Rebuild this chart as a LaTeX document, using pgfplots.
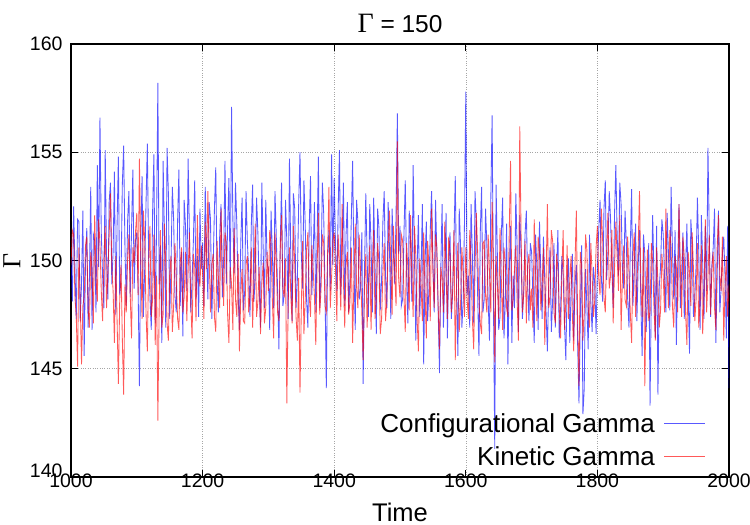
\documentclass[border=0pt]{standalone}
\usepackage{pgfplots}
\pgfplotsset{compat=1.18}
\usepackage{pgfplotstable}
\usepackage{fontspec}
\setmainfont{Liberation Sans}
\newfontfamily\serifgamma{Liberation Serif}

\pgfplotstableread{
t conf kin
1000 150.2 149.8
1002 148.1 151.4
1004 152.5 151.2
1006 149.6 148.3
1008 147.3 147.4
1010 151.9 145.1
1012 151.8 150.6
1014 147.2 148.2
1016 148.9 145.2
1018 152.3 147.9
1020 145.6 148.3
1022 149.8 150.7
1024 151.5 151.1
1026 146.9 147.8
1028 149.2 146.9
1030 153.4 150.4
1032 146.8 149.5
1034 151.2 147.1
1036 150.9 152.1
1038 147.6 149.2
1040 154.4 148.1
1042 149.7 151.9
1044 156.6 150.8
1046 151.3 148.6
1048 149.3 147.2
1050 147.8 150.1
1052 155.1 151.6
1054 150.2 147.8
1056 148.2 149.4
1058 152.7 151.2
1060 153.6 153.1
1062 148.9 149.7
1064 150.4 148.6
1066 154.1 146.2
1068 147.5 150.2
1070 151.6 147.3
1072 154.8 144.3
1074 148.4 148.1
1076 149.1 149.8
1078 153.5 146.4
1080 155.3 143.8
1082 150.6 148.9
1084 147.9 147.6
1086 151.8 150.1
1088 153.2 151.2
1090 148.3 148.4
1092 151.4 146.4
1094 154.2 150.6
1096 148.7 149.9
1098 150.9 151.3
1100 151.3 152.2
1102 148.7 148.4
1104 144.2 154.7
1106 150.8 150.2
1108 153.9 147.3
1110 147.4 152.3
1112 149.6 150.9
1114 152.6 147.6
1116 155.4 145.8
1118 150.1 149.9
1120 148.3 151.6
1122 146.8 147.4
1124 152.2 148.2
1126 154.9 151.2
1128 147.1 146.1
1130 151.4 149.3
1132 158.2 142.6
1134 148.9 147.8
1136 150.7 151.4
1138 146.2 146.9
1140 154.6 147.5
1142 151.1 151.7
1144 146.9 149.8
1146 155.2 147.1
1148 153.1 146.3
1150 147.3 149.4
1152 149.8 150.2
1154 153.4 146.7
1156 151.9 147.9
1158 148.4 150.8
1160 147.6 149.1
1162 151.8 147.3
1164 154.2 146.8
1166 147.9 149.9
1168 150.4 150.6
1170 146.5 147.6
1172 152.8 148.3
1174 151.6 150.4
1176 148.6 147.2
1178 154.7 149.5
1180 151.2 151.3
1182 147.6 148.1
1184 149.1 146.4
1186 150.9 150.3
1188 153.7 149.7
1190 148.2 147.2
1192 150.2 152.1
1194 147.4 149.3
1196 152.4 148.8
1198 149.6 150.7
1200 150.8 149.4
1202 147.9 147.3
1204 153.4 151.8
1206 150.6 149.6
1208 148.2 153.2
1210 152.7 150.1
1212 151.9 147.6
1214 147.3 149.8
1216 149.7 150.3
1218 152.4 147.4
1220 154.3 146.7
1222 149.1 150.9
1224 147.6 149.2
1226 151.2 147.8
1228 152.6 152.4
1230 148.3 149.6
1232 150.1 147.9
1234 154.6 151.3
1236 148.9 150.8
1238 151.5 147.5
1240 153.8 146.2
1242 148.7 149.7
1244 157.1 148.9
1246 151.9 146.8
1248 149.4 151.5
1250 153.6 148.2
1252 151.7 147.4
1254 148.4 150.3
1256 146.8 145.8
1258 150.8 148.4
1260 152.9 149.6
1262 147.7 147.2
1264 148.6 147.1
1266 153.2 149.8
1268 150.9 150.2
1270 149.5 147.6
1272 147.4 148.4
1274 151.6 150.6
1276 153.5 146.9
1278 148.1 149.1
1280 149.2 151.7
1282 152.9 147.4
1284 151.3 148.1
1286 148.8 149.7
1288 146.9 146.6
1290 153.6 148.9
1292 150.6 149.9
1294 147.8 147.1
1296 152.8 147.8
1298 149.9 150.4
1300 149.6 148.6
1302 146.8 151.4
1304 152.3 150.7
1306 150.4 148.2
1308 147.8 146.4
1310 153.2 151.3
1312 151.1 149.9
1314 148.6 147.6
1316 145.9 147.2
1318 150.7 150.5
1320 153.6 152.1
1322 147.9 148.7
1324 148.4 148.3
1326 152.8 150.1
1328 150.9 143.4
1330 147.3 147.8
1332 154.7 150.6
1334 150.2 148.4
1336 147.2 147.1
1338 153.1 151.6
1340 152.4 149.8
1342 147.8 147.4
1344 149.1 146.3
1346 152.6 149.2
1348 155.0 143.9
1350 150.4 147.7
1352 148.7 150.9
1354 153.7 146.6
1356 151.6 148.2
1358 148.2 150.5
1360 146.9 151.3
1362 151.5 148.4
1364 153.9 147.4
1366 148.4 150.7
1368 150.2 149.6
1370 152.7 148.3
1372 147.6 146.1
1374 150.9 149.7
1376 154.8 152.2
1378 147.8 147.5
1380 149.4 148.7
1382 153.6 151.2
1384 152.2 150.8
1386 148.7 147.9
1388 144.1 147.6
1390 150.2 150.4
1392 151.4 153.4
1394 148.6 147.8
1396 154.9 149.2
1398 149.8 150.9
1400 153.8 151.3
1402 150.7 149.6
1404 148.6 147.2
1406 152.3 151.2
1408 155.1 149.8
1410 148.4 147.7
1412 150.3 152.6
1414 153.6 149.1
1416 147.9 146.9
1418 151.2 149.8
1420 152.7 150.4
1422 147.6 147.5
1424 149.2 148.1
1426 151.9 150.6
1428 154.6 146.2
1430 149.7 149.1
1432 146.8 151.7
1434 152.8 148.8
1436 151.8 147.8
1438 148.2 151.2
1440 148.7 149.5
1442 151.3 147.6
1444 144.3 145.4
1446 149.4 148.8
1448 153.1 150.3
1450 150.2 146.9
1452 147.4 148.6
1454 152.6 150.7
1456 150.8 146.8
1458 147.6 149.6
1460 152.9 151.4
1462 149.8 147.3
1464 146.6 148.2
1466 152.4 150.8
1468 151.5 149.9
1470 147.7 146.6
1472 149.1 147.3
1474 151.8 149.4
1476 153.2 150.8
1478 149.3 147.2
1480 147.8 148.1
1482 152.7 150.6
1484 150.6 152.3
1486 147.3 149.7
1488 152.4 147.5
1490 150.4 151.6
1492 148.9 149.4
1494 152.1 147.9
1496 156.8 155.5
1498 150.3 149.1
1500 151.6 148.3
1502 147.9 151.2
1504 148.2 150.9
1506 151.2 148.4
1508 153.7 146.7
1510 149.4 150.8
1512 147.1 149.6
1514 152.3 147.7
1516 150.9 152.1
1518 148.1 149.3
1520 154.4 147.4
1522 150.2 151.6
1524 146.3 150.2
1526 149.7 147.3
1528 152.1 145.8
1530 147.4 150.1
1532 149.4 148.9
1534 152.6 147.2
1536 145.2 151.3
1538 149.8 148.6
1540 151.8 146.4
1542 147.2 150.9
1544 148.7 149.7
1546 151.4 147.2
1548 153.2 152.4
1550 149.9 149.6
1552 147.6 147.8
1554 152.8 151.2
1556 150.3 150.6
1558 147.7 147.9
1560 144.8 145.9
1562 149.6 149.7
1564 152.6 149.2
1566 146.9 147.6
1568 149.1 151.8
1570 152.2 149.4
1572 146.4 147.3
1574 149.8 151.1
1576 151.3 150.4
1578 147.3 147.6
1580 148.5 148.6
1582 150.9 151.4
1584 153.9 145.4
1586 148.6 148.8
1588 145.6 150.8
1590 152.4 146.7
1592 150.7 147.9
1594 146.9 150.6
1596 148.1 149.3
1598 151.8 147.4
1600 157.8 150.6
1602 148.4 148.2
1604 149.3 147.3
1606 146.9 151.4
1608 152.6 149.8
1610 150.2 147.3
1612 147.1 145.9
1614 153.2 149.6
1616 151.8 152.2
1618 148.4 150.4
1620 145.6 148.1
1622 151.3 147.1
1624 153.4 146.6
1626 147.6 150.8
1628 148.2 150.9
1630 152.4 148.4
1632 150.7 147.6
1634 148.1 151.2
1636 146.3 149.4
1638 152.8 147.6
1640 156.7 152.7
1642 148.2 149.8
1644 141.3 145.3
1646 153.5 150.2
1648 150.2 148.9
1650 146.8 147.3
1652 147.4 151.5
1654 151.2 149.1
1656 152.9 146.8
1658 146.4 150.6
1660 148.1 149.9
1662 151.7 147.8
1664 145.2 147.4
1666 149.4 151.3
1668 151.6 154.6
1670 146.2 147.7
1672 149.3 148.2
1674 147.8 149.6
1676 153.1 150.7
1678 150.6 148.1
1680 146.7 146.3
1682 152.1 156.2
1684 150.4 151.2
1686 147.3 147.6
1688 148.6 148.4
1690 151.2 150.9
1692 152.3 147.1
1694 148.9 149.8
1696 147.2 150.3
1698 150.8 147.7
1700 150.4 148.7
1702 148.3 146.9
1704 146.2 151.9
1706 151.2 149.3
1708 149.7 147.2
1710 146.8 151.1
1712 151.8 150.4
1714 149.4 147.7
1716 147.3 148.8
1718 151.1 150.6
1720 149.1 146.1
1722 147.6 149.2
1724 145.8 152.6
1726 148.9 147.8
1728 150.6 148.3
1730 146.7 151.4
1732 148.2 150.9
1734 150.8 147.6
1736 146.9 147.1
1738 149.6 150.3
1740 151.4 149.6
1742 146.4 147.8
1744 147.6 146.4
1746 150.2 149.5
1748 149.3 151.4
1750 147.1 146.8
1752 145.4 148.1
1754 148.8 150.7
1756 150.1 147.3
1758 146.2 149.1
1760 148.6 150.2
1762 150.3 147.4
1764 146.3 145.8
1766 148.9 149.9
1768 149.8 152.3
1770 146.1 147.1
1772 143.4 144.2
1774 147.3 150.4
1776 150.7 149.8
1778 142.9 146.3
1780 144.1 147.6
1782 149.6 151.2
1784 147.9 150.5
1786 145.9 147.8
1788 151.2 146.9
1790 148.1 150.8
1792 146.7 149.3
1794 149.7 147.4
1796 148.9 148.2
1798 146.6 150.6
1800 149.6 151.6
1802 151.4 149.2
1804 152.8 148.4
1806 149.2 152.4
1808 148.1 150.9
1810 152.4 148.3
1812 153.7 147.6
1814 149.1 150.4
1816 150.4 152.2
1818 153.2 148.7
1820 151.9 149.3
1822 149.6 151.4
1824 147.8 147.1
1826 152.1 149.6
1828 154.4 151.8
1830 151.2 150.2
1832 149.3 148.6
1834 153.6 152.1
1836 152.6 146.8
1838 149.7 149.1
1840 148.7 150.7
1842 152.3 148.2
1844 150.8 147.9
1846 148.2 151.1
1848 146.9 149.4
1850 150.6 147.6
1852 153.3 146.2
1854 147.9 150.1
1856 149.5 151.3
1858 151.7 147.4
1860 147.2 148.8
1862 149.8 150.7
1864 151.4 153.2
1866 148.1 148.9
1868 145.6 147.4
1870 151.2 150.6
1872 150.3 144.2
1874 146.7 148.3
1876 148.1 150.5
1878 150.8 147.2
1880 143.3 147.6
1882 148.6 150.8
1884 152.1 149.9
1886 149.2 147.8
1888 146.4 146.3
1890 151.6 150.6
1892 143.8 148.9
1894 148.8 146.9
1896 149.7 147.7
1898 151.9 150.3
1900 151.2 149.3
1902 149.3 147.6
1904 147.6 152.4
1906 152.2 149.5
1908 150.3 147.8
1910 147.7 151.4
1912 153.4 150.6
1914 150.6 147.9
1916 148.2 146.9
1918 151.4 150.2
1920 146.1 149.7
1922 149.7 147.6
1924 152.6 152.6
1926 147.8 149.8
1928 149.4 147.4
1930 151.3 151.1
1932 147.3 150.2
1934 149.6 147.6
1936 151.7 146.1
1938 148.4 150.4
1940 145.7 149.4
1942 151.9 147.9
1944 150.8 151.3
1946 147.4 149.6
1948 148.3 147.2
1950 149.8 148.2
1952 152.9 150.8
1954 150.4 146.9
1956 146.8 148.1
1958 152.1 150.7
1960 149.9 146.6
1962 147.3 148.4
1964 151.6 151.9
1966 148.6 147.6
1968 155.2 149.2
1970 151.3 151.2
1972 147.4 147.5
1974 149.8 149.6
1976 150.6 150.4
1978 152.4 147.8
1980 146.2 146.8
1982 149.3 150.6
1984 152.3 152.1
1986 147.6 149.3
1988 148.7 148.6
1990 150.3 151.1
1992 151.1 146.3
1994 149.2 148.8
1996 146.4 150.2
1998 151.6 147.4
2000 144.1 148.9
}\gammadata

\begin{document}
\begin{tikzpicture}
\useasboundingbox (-71bp,-48bp) rectangle (679bp,477bp);
\begin{axis}[
  at={(0,0)}, anchor=south west,
  scale only axis, width=658bp, height=433bp,
  xmin=1000, xmax=2000, ymin=140, ymax=160,
  xtick={1000,1200,...,2000}, ytick={140,145,...,160},
  yticklabels={\smash{140},145,150,155,160},
  grid=major, grid style={dotted, gray!70, line width=0.6bp},
  axis line style={line width=1.1bp},
  major tick length=7bp, tick style={black, line width=0.9bp},
  ticklabel style={font=\fontsize{19.5bp}{20bp}\selectfont},
  /pgf/number format/assume math mode=true,
  /pgf/number format/1000 sep={},
  xticklabel style={yshift=7bp},
  yticklabel style={xshift=-5bp},
  xlabel={Time}, ylabel={{\serifgamma Γ}},
  xlabel style={font=\fontsize{25.5bp}{26bp}\selectfont, at={(axis description cs:0.5,0)}, anchor=center, yshift=-35bp},
  ylabel style={font=\fontsize{26bp}{26bp}\selectfont, at={(axis description cs:-0.0897,0.5)}, anchor=center},
  title={{\fontsize{28bp}{28bp}\selectfont\serifgamma Γ} = 150},
  title style={font=\fontsize{24.5bp}{25bp}\selectfont, at={(axis description cs:0.5,1)}, anchor=center, yshift=15bp},
  legend plot pos=right,
  legend cell align=right,
  legend style={draw=none, fill=none, at={(axis description cs:0.965,0.018)}, anchor=south east,
    font=\fontsize{26bp}{28bp}\selectfont, row sep=9bp, column sep=7bp, inner sep=0pt},
  legend image code/.code={\draw[#1] (0bp,0bp) -- (41bp,0bp);},
]
\addplot[blue, line width=0.85bp, opacity=0.65, no marks] table[x=t, y=conf] {\gammadata};
\addlegendentry{Configurational Gamma}
\addplot[red, line width=0.85bp, opacity=0.65, no marks] table[x=t, y=kin] {\gammadata};
\addlegendentry{Kinetic Gamma}
\end{axis}
\end{tikzpicture}
\end{document}
